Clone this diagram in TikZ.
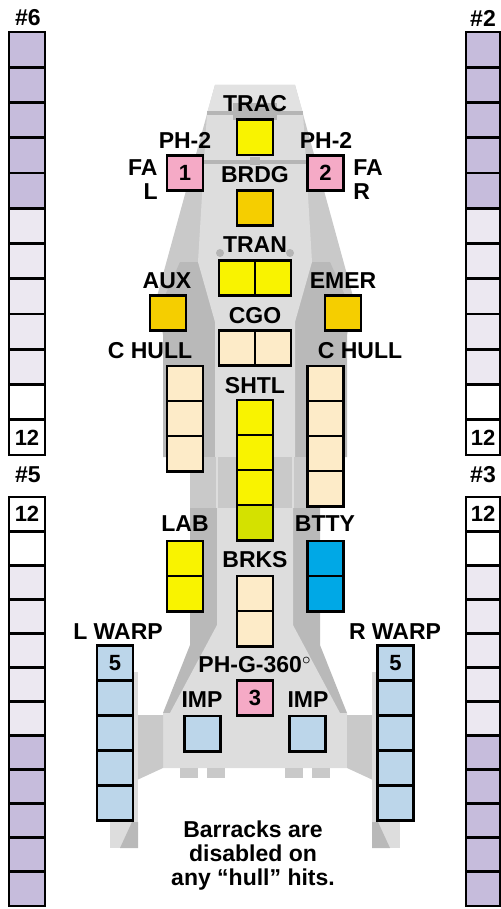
\documentclass[tikz,border=0pt]{standalone}
\usepackage{fontspec}
\setsansfont{Liberation Sans}
\usetikzlibrary{positioning}

\definecolor{lav}{HTML}{C6BCDC}
\definecolor{lavlt}{HTML}{ECE8F1}
\definecolor{sysyel}{HTML}{F9F300}
\definecolor{sysgold}{HTML}{F5CE00}
\definecolor{syscream}{HTML}{FDEBC8}
\definecolor{syslime}{HTML}{D4E100}
\definecolor{sysblue}{HTML}{00A8E6}
\definecolor{syssky}{HTML}{BCD6EA}
\definecolor{syspink}{HTML}{F5AAC6}
\definecolor{hulllt}{HTML}{DDDDDD}
\definecolor{hullmid}{HTML}{C9C9C9}
\definecolor{hulldk}{HTML}{B9B9B9}
\definecolor{hullcap}{HTML}{E2E2E2}

\tikzset{
  sysbox/.style={draw=black, line width=1.4pt, minimum width=18pt,
    minimum height=17.6pt, inner sep=0pt,
    font=\sffamily\bfseries\fontsize{11}{11}\selectfont},
  colbox/.style={sysbox, minimum width=18pt},
  lbl/.style={font=\sffamily\bfseries\fontsize{11.5}{12}\selectfont,
    inner sep=0pt}
}

\begin{document}
\begin{tikzpicture}[x=0.5pt,y=-0.5pt]
\useasboundingbox (0,0) rectangle (500,909);
% Hull
\fill[hullmid] (215,85) -- (295,85) -- (354,300) -- (347,335) -- (163,335) -- (156,300) -- cycle;
\fill[hullcap] (215,85) -- (295,85) -- (303,113) -- (207,113) -- cycle;
\fill[hulldk] (180,262) -- (330,262) -- (347,300) -- (347,457) -- (163,457) -- (163,300) -- cycle;
\fill[hulllt] (207,113) -- (303,113) -- (312,262) -- (295,322) -- (295,457)
  -- (215,457) -- (215,322) -- (198,262) -- cycle;
\draw[hullmid!90!black, line width=2pt] (207,113) -- (303,113);
\draw[hullmid!90!black, line width=2pt] (194,162) -- (316,162);
\fill[hullmid!90!black] (233,103) rectangle (277,120);
\fill[hullmid!90!black] (250,157) rectangle (260,165);
\fill[hullmid!90!black] (220,253) circle (4);
\fill[hullmid!90!black] (290,253) circle (4);
% Mid section
\fill[hullmid] (190,457) rectangle (320,508);
\draw[hulllt, line width=0.6pt] (217,457) -- (217,508);
\draw[hulllt, line width=0.6pt] (293,457) -- (293,508);
\fill[hulldk] (190,508) -- (320,508) -- (320,645) -- (347,713) -- (163,713) -- (190,645) -- cycle;
\fill[hulllt] (217,508) -- (293,508) -- (293,625) -- (340,713) -- (347,713) -- (347,768)
  -- (163,768) -- (163,713) -- (170,713) -- (217,625) -- cycle;
% Pylons and tabs
\fill[hullmid] (137,715) -- (163,715) -- (163,768) -- (137,780) -- cycle;
\fill[hullmid] (373,715) -- (347,715) -- (347,768) -- (373,780) -- cycle;
\foreach \tx in {180,207,285,312}
  \fill[hullmid] (\tx,768) rectangle ++(18,10);
% Nacelles
\fill[hulllt] (110,672) rectangle (138,848);
\fill[hulllt] (372,672) rectangle (400,848);
\fill[hulldk] (132,822) -- (138,822) -- (138,848) -- (120,848) -- cycle;
\fill[hulldk] (378,822) -- (372,822) -- (372,848) -- (390,848) -- cycle;

% Bay columns
\foreach \i in {1,...,12}{
  \pgfmathsetmacro{\cy}{32+35.25*(\i-0.5)}
  \ifnum\i<6 \def\fc{lav}\else\ifnum\i<11 \def\fc{lavlt}\else\def\fc{white}\fi\fi
  \ifnum\i=12 \def\tx{12}\else\def\tx{}\fi
  \node[colbox, fill=\fc] (bay6-\i) at (27,\cy) {\tx};
  \node[colbox, fill=\fc, minimum width=17pt] (bay2-\i) at (483,\cy) {\tx};
}
\foreach \i in {1,...,12}{
  \pgfmathsetmacro{\cy}{497+34.08*(\i-0.5)}
  \ifnum\i<3 \def\fc{white}\else\ifnum\i<8 \def\fc{lavlt}\else\def\fc{lav}\fi\fi
  \ifnum\i=1 \def\tx{12}\else\def\tx{}\fi
  \node[colbox, minimum height=17pt, fill=\fc] (bay5-\i) at (27,\cy) {\tx};
  \node[colbox, minimum height=17pt, fill=\fc, minimum width=17pt] (bay3-\i) at (483,\cy) {\tx};
}
\node[lbl] (bay6lbl) at (28,18) {\#6};
\node[lbl] (bay2lbl) at (483,18) {\#2};
\node[lbl] (bay5lbl) at (28,475) {\#5};
\node[lbl] (bay3lbl) at (483,475) {\#3};

% Systems
\node[sysbox, fill=sysyel] (trac) at (255,137.5) {};
\node[sysbox, fill=syspink] (ph1) at (185,173) {1};
\node[sysbox, fill=syspink] (ph2) at (325.5,173) {2};
\node[sysbox, fill=sysgold] (brdg) at (255,208) {};
\node[sysbox, fill=sysyel] (tran1) at (237,278) {};
\node[sysbox, fill=sysyel] (tran2) at (273,278) {};
\node[sysbox, fill=sysgold] (aux) at (168,313) {};
\node[sysbox, fill=sysgold] (emer) at (343,313) {};
\node[sysbox, fill=syscream] (cgo1) at (237,348) {};
\node[sysbox, fill=syscream] (cgo2) at (273,348) {};
\foreach \i/\cy in {1/383.5,2/418.5,3/453.5}
  \node[sysbox, fill=syscream] (chulll\i) at (185,\cy) {};
\foreach \i/\cy in {1/383.5,2/418.5,3/453.5,4/488.5}
  \node[sysbox, fill=syscream] (chullr\i) at (325.5,\cy) {};
\foreach \i/\cy in {1/417.5,2/452.5,3/487.5}
  \node[sysbox, fill=sysyel] (shtl\i) at (255,\cy) {};
\node[sysbox, fill=syslime] (shtl4) at (255,522.5) {};
\foreach \i/\cy in {1/558.5,2/593.5}{
  \node[sysbox, fill=sysyel] (lab\i) at (185,\cy) {};
  \node[sysbox, fill=sysblue] (btty\i) at (325.5,\cy) {};
}
\foreach \i/\cy in {1/593.5,2/628.5}
  \node[sysbox, fill=syscream] (brks\i) at (255,\cy) {};
\foreach \i/\cy in {1/663,2/698,3/733,4/768,5/803}{
  \ifnum\i=1 \def\tx{5}\else\def\tx{}\fi
  \node[sysbox, fill=syssky] (lwarp\i) at (115,\cy) {\tx};
  \node[sysbox, fill=syssky] (rwarp\i) at (395.5,\cy) {\tx};
}
\node[sysbox, fill=syspink] (ph3) at (255,698) {3};
\node[sysbox, fill=syssky] (impl) at (202.5,733.5) {};
\node[sysbox, fill=syssky] (impr) at (307.5,733.5) {};

% Labels
\node[lbl] (traclbl) at (255,104) {TRAC};
\node[lbl] (ph1lbl) at (185,140) {PH-2};
\node[lbl] (ph2lbl) at (326,140) {PH-2};
\node[lbl, align=right, anchor=east] (fallbl) at (158,180) {FA\\L};
\node[lbl, align=left, anchor=west] (farlbl) at (353,180) {FA\\R};
\node[lbl] (brdglbl) at (255,175) {BRDG};
\node[lbl] (tranlbl) at (255,245) {TRAN};
\node[lbl] (auxlbl) at (167,281) {AUX};
\node[lbl] (emerlbl) at (343,281) {EMER};
\node[lbl] (cgolbl) at (255,316) {CGO};
\node[lbl] (chulllbl) at (150,351) {C HULL};
\node[lbl] (chullrlbl) at (360,351) {C HULL};
\node[lbl] (shtllbl) at (255,386) {SHTL};
\node[lbl] (lablbl) at (185,524) {LAB};
\node[lbl] (bttylbl) at (325,524) {BTTY};
\node[lbl] (brkslbl) at (255,560) {BRKS};
\node[lbl] (lwarplbl) at (118,632) {L WARP};
\node[lbl] (rwarplbl) at (395,632) {R WARP};
\node[lbl] (ph3lbl) at (255,665) {PH-G-360$^\circ$};
\node[lbl] (impllbl) at (202,700) {IMP};
\node[lbl] (imprlbl) at (308,700) {IMP};
\node[lbl, align=center] (note) at (253,856) {Barracks are\\disabled on\\any “hull” hits.};
\end{tikzpicture}
\end{document}
